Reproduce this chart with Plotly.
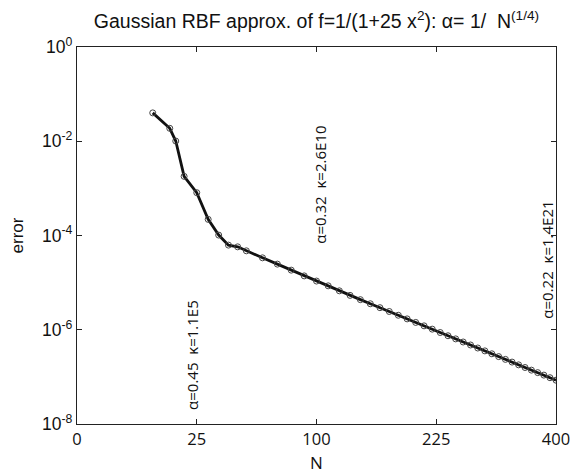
import numpy as np
import plotly.graph_objects as go

N = [10, 15, 17, 20, 25, 30, 35, 40, 45, 50, 60, 70, 80, 90, 100, 110, 120,
     130, 140, 150, 160, 170, 180, 190, 200, 210, 220, 230, 240, 250, 260,
     270, 280, 290, 300, 310, 320, 330, 340, 350, 360, 370, 380, 390, 400]
error = [4.0e-2, 1.88e-2, 1.01e-2, 1.8e-3, 8.1e-4, 2.2e-4, 1.02e-4, 6.25e-5,
         5.75e-5, 4.73e-5, 3.36e-5, 2.47e-5, 1.84e-5, 1.39e-5, 1.08e-5,
         8.55e-6, 6.7e-6,
         5.36e-6, 4.35e-6, 3.56e-6, 2.94e-6, 2.44e-6, 2.03e-6, 1.70e-6,
         1.43e-6, 1.21e-6, 1.03e-6, 8.73e-7, 7.46e-7, 6.40e-7, 5.50e-7,
         4.75e-7, 4.10e-7, 3.56e-7, 3.09e-7, 2.69e-7, 2.35e-7, 2.06e-7,
         1.80e-7, 1.58e-7, 1.39e-7, 1.23e-7, 1.09e-7, 9.6e-8, 8.5e-8]

x_ticks = [0, 25, 100, 225, 400]
y_ticks = [1e-8, 1e-6, 1e-4, 1e-2, 1e0]
y_tick_text = ["10<sup>-8</sup>", "10<sup>-6</sup>", "10<sup>-4</sup>",
               "10<sup>-2</sup>", "10<sup>0</sup>"]

ann_text = ["α=0.45  κ=1.1E5", "α=0.32  κ=2.6E10", "α=0.22  κ=1.4E21"]
ann_N = [23, 103, 386]
ann_err = [2.9e-7, 1.2e-3, 3.0e-5]

SANS2 = "Open Sans, DejaVu Sans, sans-serif"
HELV = "Liberation Sans, Arial, sans-serif"

fig = go.Figure()
fig.add_trace(go.Scatter(
    x=np.sqrt(N), y=error, mode="lines+markers",
    line=dict(color="#111111", width=2.8),
    marker=dict(symbol="circle-open", size=6, color="#444444",
                line=dict(width=1, color="#444444")),
    showlegend=False))

for t, n, e in zip(ann_text, ann_N, ann_err):
    fig.add_annotation(x=np.sqrt(n), y=np.log10(e), text=t, showarrow=False,
                       textangle=-90, xref="x", yref="y",
                       font=dict(family=SANS2, size=15, color="#111111"))

fig.update_layout(
    width=572, height=476,
    margin=dict(l=77, r=16, t=47, b=52, autoexpand=False),
    paper_bgcolor="white", plot_bgcolor="white",
    title=dict(text="Gaussian RBF approx. of f=1/(1+25 x<sup>2</sup>): α= 1/  N<sup>(1/4)</sup>",
               x=0.5, xref="paper", xanchor="center", y=0.955, yanchor="middle",
               font=dict(family=HELV, size=19.5, color="#111111")),
    font=dict(family=HELV, size=17, color="#111111"),
)
fig.update_xaxes(
    range=[0, 20], tickvals=np.sqrt(x_ticks), ticktext=[str(v) for v in x_ticks],
    ticks="inside", ticklen=5, tickcolor="#222222", showgrid=False, zeroline=False,
    showline=True, linecolor="#222222", linewidth=1.2, mirror="ticks", automargin=False,
    tickfont=dict(family=SANS2, size=16.5),
    title=dict(text="N", standoff=8, font=dict(family=SANS2, size=17)))
fig.update_yaxes(
    type="log", range=[-8, 0], tickvals=y_ticks, ticktext=y_tick_text,
    ticks="inside", ticklen=5, tickcolor="#222222", showgrid=False, zeroline=False,
    showline=True, linecolor="#222222", linewidth=1.2, mirror="ticks", automargin=False,
    tickfont=dict(family=HELV, size=17.5),
    title=dict(text="error", standoff=14, font=dict(family=HELV, size=17)))

fig.write_html("out.html", config={"displayModeBar": False},
               post_script="document.body.style.margin='0px';")
